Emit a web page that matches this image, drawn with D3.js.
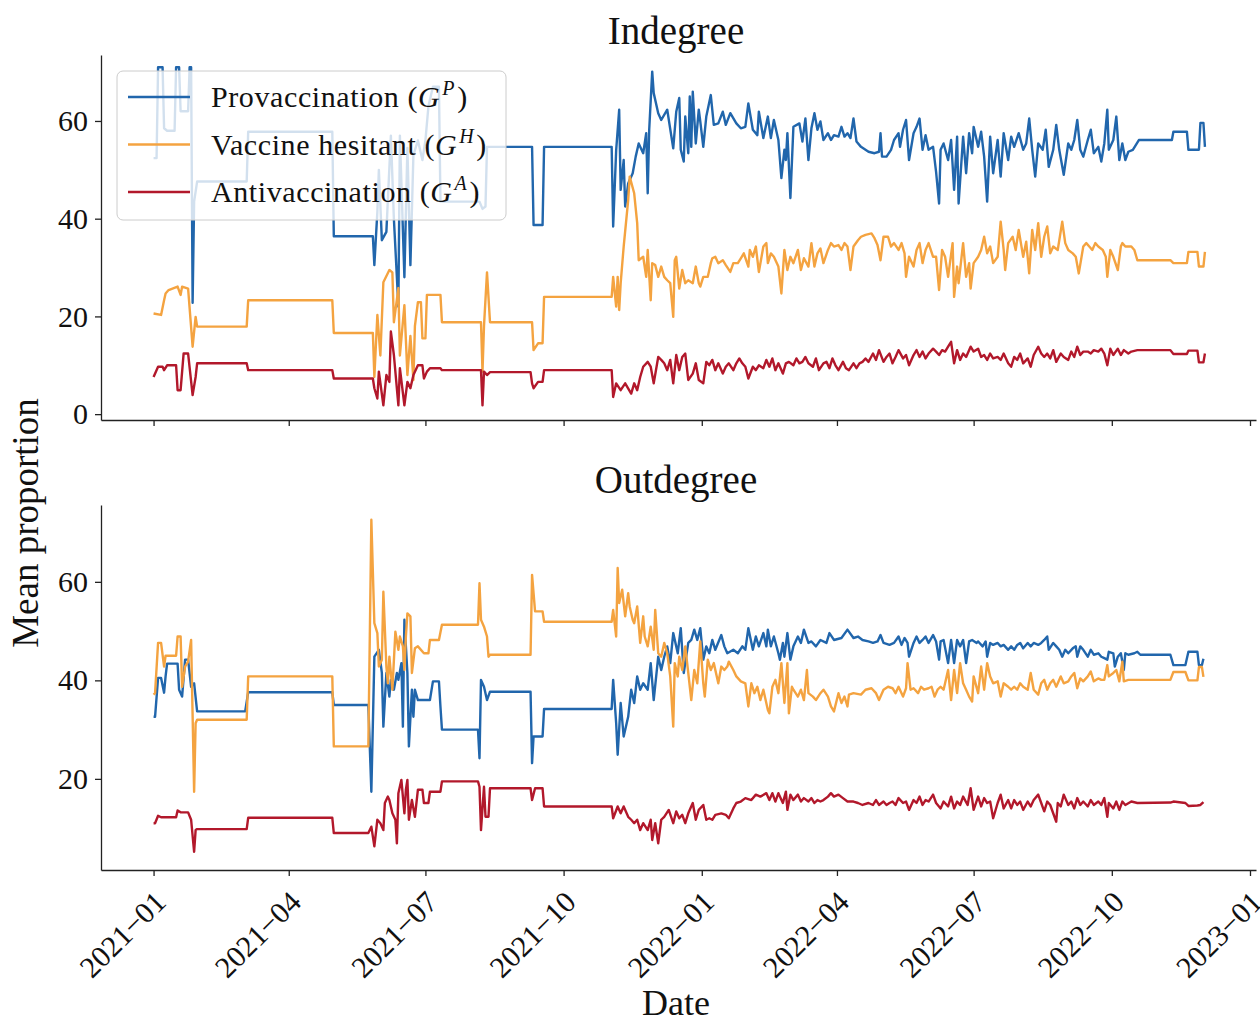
<!DOCTYPE html>
<html>
<head>
<meta charset="utf-8">
<script src="https://cdn.jsdelivr.net/npm/d3@7"></script>
<style>
  body { margin: 0; background: #fff; }
  svg text { font-family: "Liberation Serif", "DejaVu Serif", serif; fill: #111; }
</style>
</head>
<body>
<svg width="1260" height="1024"></svg>
<script>
// each point: [days since 2021-01-01, mean proportion]
var inPro = [[0,52.4],[2,52.4],[3,71],[6,71],[7,58.5],[9,58],[14,58],[15,71],[17,71],[18,62],[23,62],[24,71],[25,71],[26,22.8],[27,43.5],[29,47.6],[62,47.6],[63,57.8],[119,57.8],[120,36.4],[146,36.4],[147,30.5],[149,41.4],[150,50],[152,35.6],[155,37.3],[158,57],[160,40],[163,22],[164,57],[167,28],[169,54.5],[171,30.5],[173,53],[176,56],[179,52],[181,56],[183,63],[186,67],[190,67],[191,43.5],[217,43.5],[219,42],[221,42.5],[222,54.7],[252,54.7],[253,38.7],[259,38.7],[260,54.7],[305,54.7],
  [306,38.4],[308,54],[310,62.3],[311,45.9],[313,52],[314,42.5],[316,47.2],[319,49.3],[321,52.7],[323,55.4],[326,53.4],[328,57.5],[329,45.2],[330,58.2],[332,70.1],[333,65.7],[336,61.6],[338,60.2],[342,62.3],[346,54.4],[348,61.9],[350,64.7],[351,54.1],[353,51.7],[354,60.9],[356,53.4],[357,65],[358,54.7],[359,66],[361,55.4],[363,62.3],[364,59.9],[366,54.7],[368,60.9],[371,65.3],[373,59.2],[376,59.5],[379,61.9],[381,59.2],[384,61.6],[388,59.5],[391,58.5],[394,58.8],[396,63.6],[399,58.2],[402,57.1],[403,61.9],[406,56.5],[409,60.9],[411,56.5],[413,60.2],[416,56.1],[418,48.3],[420,54.1],[421,52],[422,57.5],[424,44.2],[426,58.8],[430,59.5],[432,55.8],[434,60.5],[436,52],[438,58.5],[440,61.6],[442,58.2],[444,59.9],[446,56.1],[449,57.5],[451,56.1],[453,57.1],[456,56.8],[458,58.8],[460,56.8],[462,57.5],[464,56.5],[466,60.5],[468,55.8],[471,54.7],[476,53.7],[480,53.4],[483,53.7],[484,57.5],[485,52.7],[488,52.7],[491,54.1],[493,56.1],[496,57.5],[497,54.7],[499,58.2],[501,60.2],[503,52],[506,57.5],[508,58.8],[510,60.5],[512,54.1],[514,57.1],[516,54.1],[519,54.7],[521,49.6],[523,43.1],
  [524,54.1],[526,55.4],[529,52],[531,56.1],[533,45.9],[535,56.8],[536,43.1],[539,56.8],[541,49.3],[543,57.5],[545,53.4],[546,58.8],[549,54.7],[551,57.8],[553,52.7],[555,43.5],[557,56.8],[559,49.3],[562,56.1],[564,48.6],[566,57.5],[569,52],[571,56.8],[573,54.7],[576,57.5],[579,54.1],[581,55.4],[583,60.5],[585,54.1],[587,48.6],[589,55.4],[592,54.1],[594,58.2],[596,50.6],[599,54.1],[601,59.2],[603,54.1],[606,49],[609,55.4],[611,54.1],[613,56.1],[615,60.2],[617,54.1],[619,52.7],[622,56.1],[624,58.2],[626,53.4],[629,54.7],[631,51.7],[633,55.4],[635,62.3],[636,54.1],[639,56.1],[641,60.9],[643,52],[645,55.4],[647,52],[649,53.7],[652,54.1],[656,56.1],[678,56.1],[679,57.8],[688,57.8],[689,54.1],[696,54.1],[697,59.6],[699,59.6],[700,54.7]];

var inHes = [[0,20.6],[5,20.3],[7,23.3],[8,24.7],[10,25.4],[16,26.1],[18,24.4],[19,26.1],[23,25.7],[26,13.8],[28,19.9],[29,17.9],[62,17.9],[63,23.3],[119,23.3],[120,16.6],[146,16.6],[147,7.6],[149,20.3],[151,12],[153,27],[157,29.5],[159,29],[160,18.8],[163,25.8],[164,12],[167,22.3],[169,8],[171,16],[173,7],[174,18],[176,22.9],[178,22.9],[179,15.5],[181,15.5],[182,24.4],[191,24.4],[192,18.8],[218,18.8],[219,8.7],[220,18],[222,29],[224,18.8],[252,18.8],[253,13.1],[256,14.5],[259,14.5],[260,24],[305,24],
  [306,28.1],[308,22],[309,28.1],[310,21.3],[311,26.8],[313,34.3],[316,43.8],[317,48.6],[320,45.2],[322,39.1],[323,31.5],[326,32.2],[328,28.1],[329,33.6],[331,23.3],[332,30.9],[334,30.5],[336,28.1],[338,30.2],[340,28.1],[342,27.4],[344,26.8],[346,19.9],[347,31.5],[348,32.2],[350,25.7],[352,29.5],[354,26.8],[356,27.4],[359,26.8],[361,30.2],[363,26.8],[364,26.1],[366,28.1],[369,28.1],[371,30.9],[372,31.9],[374,32.2],[376,30.9],[379,31.5],[381,30.5],[384,29.1],[386,30.9],[389,30.9],[391,31.9],[393,32.9],[396,30.2],[397,33.6],[399,32.2],[401,34.3],[403,29.1],[406,34.3],[408,35],[409,30.9],[411,32.9],[413,32.2],[416,30.2],[418,24.7],[420,33.6],[422,29.5],[424,32.2],[426,30.9],[429,33.6],[431,29.5],[433,31.9],[436,30.2],[438,35],[440,30.2],[442,32.9],[444,33.9],[446,30.9],[449,33.6],[451,35],[453,34.3],[456,34.6],[458,33.6],[460,35],[462,34.3],[464,29.5],[466,34.3],[469,35.6],[471,36.3],[474,36.7],[478,37],[480,36],[482,34.6],[484,31.5],[486,36.3],[489,36.3],[491,34.3],[493,35],[496,33.6],[498,35],[500,32.9],[501,28.1],[503,32.2],[506,30.2],[508,33.6],[510,35],[512,30.9],[514,33.6],[516,35],[519,32.2],[521,32.2],[523,25.4],
  [525,33.6],[527,32.2],[529,28.1],[532,35],[533,24],[535,30.2],[536,26.8],[539,35],[541,28.1],[543,30.9],[544,25.7],[546,30.9],[549,32.2],[551,33.6],[553,36.3],[555,32.9],[557,34.3],[559,30.9],[562,32.2],[564,39.4],[566,33.6],[567,29.5],[569,35],[572,36.3],[574,33.6],[576,37.7],[579,32.2],[581,35.3],[583,28.8],[585,37.7],[587,33.6],[589,39.1],[591,32.2],[593,36.3],[595,38.4],[597,32.9],[599,34.3],[602,33.6],[605,39.4],[607,35],[609,33.6],[612,32.9],[614,32.2],[616,28.8],[619,34.3],[621,35],[623,34.3],[625,33.6],[627,35],[629,34.3],[632,33.6],[634,32.2],[635,28.1],[637,33.6],[639,32.2],[642,29.5],[644,34.3],[645,35],[647,34.3],[651,34.3],[653,33.6],[655,31.5],[677,31.5],[679,30.9],[688,30.9],[689,33.2],[695,33.2],[696,30.2],[699,30.2],[700,33.2]];

var inAnti = [[0,7.6],[3,9.7],[6,9.7],[7,9],[9,10],[15,10],[16,4.9],[18,4.9],[20,12.4],[23,12.4],[26,3.9],[28,7.6],[29,10.4],[62,10.4],[63,9],[119,9],[120,7.3],[146,7.3],[147,5.3],[149,3.2],[150,8.7],[153,1.8],[155,8],[157,6.6],[158,16.9],[160,12.1],[163,1.8],[164,9.4],[167,1.8],[169,6.6],[171,5.3],[173,8],[176,10],[179,10],[180,7.3],[182,8.7],[184,9.4],[191,9.4],[192,9],[218,9],[219,1.8],[220,8.7],[222,8],[224,8.6],[251,8.6],[252,6.3],[253,5.3],[256,6.6],[259,6.6],[260,9],[305,9],
  [306,3.5],[308,6.3],[311,4.9],[314,6.3],[318,4.2],[320,6.3],[322,4.9],[324,7.6],[326,9.7],[329,10.7],[331,9.7],[333,6.3],[336,11.7],[338,11.1],[340,10.4],[342,9],[344,11.1],[346,6.3],[348,12.1],[350,9],[352,11.7],[354,12.4],[356,7],[359,8.3],[361,10.4],[363,7],[366,6.3],[368,10.7],[370,10],[372,11.1],[374,9],[376,10.4],[379,8.3],[381,9.7],[383,10.4],[386,9],[388,10.4],[390,11.4],[392,10.4],[394,9.7],[396,7.3],[399,9.7],[401,9],[403,10],[406,9.4],[408,11.1],[410,9.7],[412,11.4],[414,9],[416,10.4],[419,8.3],[421,10.4],[423,10.7],[426,10],[428,11.4],[430,10.4],[432,10.7],[434,11.7],[436,10.4],[439,9.7],[441,11.4],[443,9],[446,10.4],[448,10.7],[450,9.4],[452,11.4],[454,10],[456,9],[459,10.7],[461,9.4],[463,9],[466,10.4],[468,9.4],[470,10.4],[472,10.7],[474,11.4],[476,10.7],[479,12.4],[481,11.1],[483,13.1],[486,10.7],[488,11.7],[490,12.4],[492,10.4],[494,11.7],[496,13.1],[499,11.4],[501,12.1],[503,10],[506,12.1],[508,13.1],[510,11.7],[512,12.8],[514,11.4],[516,12.4],[519,13.4],[521,12.8],[523,12.1],[525,13.1],[527,12.8],[529,13.8],[531,14.8],[533,10.4],[535,13.1],[537,11.1],
  [539,12.4],[541,11.7],[544,13.8],[546,12.8],[549,13.4],[551,11.7],[553,12.1],[555,11.1],[557,12.4],[559,11.4],[562,11.7],[564,11.1],[566,12.4],[569,10.4],[571,9.7],[573,11.7],[575,11.1],[577,12.4],[579,10.4],[582,11.4],[584,9.7],[586,12.1],[589,13.8],[591,12.4],[593,11.7],[595,12.4],[597,11.4],[599,13.1],[601,10.7],[604,12.4],[606,11.7],[609,11.1],[611,12.8],[613,11.7],[615,13.8],[617,12.1],[619,12.8],[622,12.8],[624,12.4],[626,13.1],[629,12.8],[631,13.4],[633,12.4],[635,10],[637,13.4],[639,12.1],[642,13.4],[644,12.1],[646,13.1],[649,12.4],[651,12.8],[655,13.1],[677,13.1],[679,12.3],[688,12.3],[689,13],[695,13],[696,10.6],[699,10.6],[700,12.4]];

var outPro = [[0,32.6],[1,32.6],[3,40.5],[5,40.5],[7,37.5],[8,40.8],[9,43.4],[16,43.4],[17,38.1],[19,36.7],[21,44.2],[23,44.2],[25,38.7],[27,39.4],[29,33.7],[61,33.7],[63,37.6],[119,37.6],[120,35],[143,35],[145,17.4],[147,44.8],[150,46.2],[152,41.5],[153,30.6],[155,41.5],[157,36.7],[158,40.1],[160,38.1],[162,41.5],[163,40.1],[165,43.5],[166,30.6],[167,52.3],[169,41.5],[170,26.6],[172,38.1],[173,32.6],[174,38.1],[176,36],[184,36],[186,39.8],[190,39.8],[191,34.7],[192,30],[216,30],[217,24.2],[218,40.1],[220,38.7],[222,36],[224,37.7],[251,37.7],[252,23.2],[253,28.6],[259,28.6],[260,34.2],[305,34.2],
  [306,40.1],[308,31.3],[309,24.9],[311,35.4],[313,28.6],[316,32.6],[318,38.1],[320,35.4],[322,40.8],[324,38.1],[326,39.4],[329,38.1],[331,43.5],[333,36],[336,44.8],[338,42.1],[340,44.8],[342,46.9],[344,43.5],[346,49.6],[349,45.5],[351,50.6],[353,41.5],[356,47.6],[358,48.2],[360,50.3],[362,48.2],[364,50.6],[366,44.2],[368,46.9],[370,45.5],[372,48.2],[374,46.2],[378,49.2],[380,46.9],[382,45.5],[386,46.2],[389,45.5],[392,46.9],[394,46.2],[396,50.6],[399,46.2],[401,48.9],[403,46.9],[406,49.6],[408,46.9],[409,50.3],[411,46.9],[413,48.9],[416,45.5],[417,44.2],[419,47.6],[420,44.8],[422,49.6],[424,44.2],[426,46.9],[429,48.9],[431,47.6],[433,50.3],[436,47.6],[438,47.9],[441,46.9],[444,48.2],[448,47.6],[450,49.6],[453,48.2],[458,48.6],[462,50.3],[466,48.6],[469,48.9],[472,48.2],[476,47.9],[479,47.6],[482,47.9],[484,49.2],[486,47.6],[490,47.2],[493,47.6],[496,48.9],[498,47.2],[500,48.6],[502,47.6],[503,44.8],[506,47.6],[508,48.9],[510,47.6],[512,48.2],[514,48.9],[516,47.6],[519,49.2],[521,47.9],[523,44.2],
  [524,47.9],[526,48.2],[529,43.5],[531,48.2],[533,43.5],[535,48.2],[537,46.9],[539,48.2],[541,43.5],[543,47.9],[545,48.2],[548,47.6],[549,47.9],[552,46.9],[554,47.9],[555,44.8],[557,47.6],[559,47.2],[562,47.6],[564,46.9],[566,47.2],[569,46.2],[571,46.9],[573,46.2],[575,47.2],[577,47.6],[579,46.5],[582,47.6],[584,46.9],[586,47.6],[589,47.2],[591,47.6],[593,48.2],[595,48.9],[596,46.2],[599,47.6],[601,46.9],[603,46.2],[605,44.8],[607,46.2],[609,45.5],[612,46.5],[614,46.9],[615,44.8],[617,46.9],[619,46.2],[622,44.8],[624,46.2],[626,45.2],[629,45.5],[631,44.8],[633,44.5],[635,44.2],[636,45.8],[639,45.5],[640,42.8],[642,44.8],[644,45.5],[646,42.1],[647,45.5],[649,45.2],[653,45.5],[655,45.8],[657,45.2],[677,45.2],[679,43.1],[687,43.1],[689,45.8],[695,45.8],[696,43.1],[698,43.1],[699,44.4]];

var outHes = [[0,37.1],[1,37.4],[3,47.6],[5,47.6],[7,42.8],[8,45],[15,45],[16,48.9],[18,48.9],[19,38.7],[21,42.8],[23,43.8],[25,48.2],[27,17.4],[28,31.3],[29,32],[62,32],[63,40.8],[119,40.8],[120,26.6],[143,26.6],[145,72.6],[147,51.6],[149,49.6],[150,42.8],[152,44.2],[153,58],[155,42.8],[156,39.4],[157,44.8],[159,38.1],[161,49.9],[163,46.2],[164,48.9],[166,46.9],[167,42.1],[168,48.9],[169,53.6],[171,53],[172,41.5],[174,46.5],[176,46.9],[180,45.5],[183,45.5],[184,48.2],[190,48.2],[192,51.3],[216,51.3],[217,59.7],[218,52.3],[220,50.9],[222,48.9],[223,44.8],[224,45.2],[251,45.2],[252,61.4],[254,54],[259,54],[260,51.9],[305,51.9],
  [306,54.3],[308,48.9],[309,62.8],[310,55.7],[312,58.4],[314,53],[316,57.7],[317,55],[319,52.3],[320,51.6],[322,55],[324,47.6],[326,53],[327,48.9],[329,46.9],[331,50.9],[333,46.2],[334,54.3],[336,45.5],[338,44.8],[340,47.6],[342,45.5],[344,40.8],[346,30.6],[347,43.5],[349,40.8],[350,44.8],[352,42.1],[354,46.9],[356,41.5],[358,36],[360,42.1],[362,39.4],[364,47.9],[366,39.4],[367,36.7],[369,44.2],[371,42.1],[373,43.5],[376,39.4],[378,42.8],[380,42.1],[382,42.8],[383,43.8],[386,42.1],[388,40.8],[391,39.8],[394,39.4],[396,34.7],[398,39.4],[400,37.4],[402,38.7],[404,36],[406,38.1],[409,34],[410,33.3],[412,38.7],[414,40.1],[416,37.4],[418,43.5],[420,35.4],[422,43.5],[423,33.3],[425,38.7],[426,38.1],[429,36.7],[431,38.1],[433,36],[435,42.1],[436,37.4],[439,36.7],[441,36],[444,37.4],[446,38.1],[449,36.7],[451,34.7],[453,33.7],[456,37.4],[458,35.4],[460,36.7],[462,34.7],[463,37.1],[466,37.4],[471,37.1],[474,38.1],[478,38.4],[481,37.4],[483,36],[486,38.1],[489,38.7],[492,38.4],[494,37.4],[496,38.7],[499,36.7],[501,38.4],[502,43.5],[504,38.1],[506,38.4],[509,37.4],[511,38.7],[513,38.1],[516,38.4],[518,38.7],[520,36.7],[522,38.1],
  [524,38.7],[526,38.1],[529,42.1],[531,36],[533,42.1],[535,37.4],[537,43.5],[539,39.4],[541,38.1],[543,36.7],[545,35.7],[546,40.8],[549,37.4],[551,42.8],[553,38.1],[555,43.5],[557,40.8],[559,39.4],[562,39.8],[564,36.7],[566,39.4],[569,38.7],[571,38.1],[573,38.7],[575,38.1],[577,39.4],[579,38.7],[582,38.1],[584,41.5],[586,38.1],[589,37.1],[591,39.4],[593,40.1],[595,38.1],[597,39.4],[599,40.1],[601,38.7],[604,40.8],[606,39.4],[609,39.8],[611,40.8],[613,41.5],[615,38.4],[617,40.4],[619,39.8],[622,40.8],[624,41.8],[626,39.8],[629,40.4],[631,40.1],[633,40.1],[635,43.1],[636,40.8],[639,41.5],[641,42.1],[643,39.8],[645,43.8],[646,39.8],[649,40.1],[652,40.1],[655,40.1],[677,40.1],[679,41.7],[687,41.7],[689,40],[695,40],[696,42.7],[698,42.7],[699,40.7]];

var outAnti = [[0,11],[1,11],[3,12.5],[5,12.2],[15,12.2],[16,13.6],[18,13.2],[23,13.2],[25,11.7],[27,5.2],[28,9.6],[29,9.8],[62,9.8],[63,12.1],[119,12.1],[120,9],[143,9],[145,10.3],[147,6.3],[149,11.7],[151,11],[153,9.6],[154,15.1],[156,16.4],[157,15.7],[159,13],[161,11.7],[162,6.9],[163,17.1],[165,19.8],[167,13],[168,17.8],[169,19.8],[170,11.7],[172,15.7],[174,12.3],[176,17.8],[179,17.8],[180,15.1],[183,15.1],[184,17.4],[191,17.4],[192,19.5],[216,19.5],[217,18.4],[218,9.6],[220,18.4],[221,12.3],[223,12.3],[224,18.1],[251,18.1],[252,15.7],[254,18.1],[259,18.1],[260,14.4],[305,14.4],
  [306,12],[309,14.4],[311,13],[313,14.4],[316,12.3],[318,11.7],[320,11],[322,11.7],[324,9.6],[326,11],[329,9.6],[331,11.7],[332,7.6],[334,11],[336,6.9],[338,11.7],[340,12.3],[343,13.7],[346,11],[348,13.4],[350,12],[352,12.7],[354,11],[356,13],[359,15.1],[361,11.7],[363,13.7],[366,14.7],[368,11.7],[370,12],[372,11.7],[374,12.7],[378,13],[381,12.7],[383,12],[386,14],[388,15.1],[391,15.4],[394,16.1],[398,15.7],[401,16.8],[404,16.4],[408,17.1],[410,15.7],[412,17.1],[414,15.4],[416,17.1],[419,15.1],[421,17.4],[422,13.7],[424,16.8],[426,15.7],[429,16.8],[431,15.4],[433,16.1],[436,15.4],[438,16.1],[440,15.1],[442,15.7],[444,15.4],[446,15.7],[449,16.4],[451,17.1],[453,16.4],[456,16.8],[459,16.1],[462,15.4],[466,15.4],[469,15.1],[472,14.7],[476,15.1],[479,14.7],[481,15.7],[483,14.7],[486,15.4],[488,14.7],[490,15.1],[492,15.4],[494,14.7],[496,16.1],[499,15.1],[501,15.4],[503,13.7],[506,15.7],[508,15.1],[510,16.4],[512,14.7],[514,15.7],[516,15.4],[519,16.8],[521,15.1],
  [524,14],[526,15.4],[529,14.4],[531,16.4],[533,14],[535,15.4],[537,14.7],[539,16.4],[542,14.7],[544,18.1],[546,13.7],[549,16.4],[551,14.4],[553,16.1],[555,15.1],[557,15.4],[559,12],[562,15.1],[564,16.8],[566,14],[569,15.7],[571,14],[573,15.7],[575,14.7],[577,15.4],[579,13.7],[582,15.4],[584,14.4],[586,15.7],[589,16.8],[591,15.1],[593,13.4],[595,15.4],[597,14.7],[601,11.3],[602,15.1],[604,14.4],[606,16.8],[609,14.7],[611,15.4],[613,14],[615,16.1],[617,14.7],[619,15.4],[622,14.4],[624,15.7],[626,14.7],[629,15.4],[631,14.7],[633,16.1],[635,12.3],[636,15.1],[639,14],[641,15.4],[643,13.7],[645,15.4],[647,14.7],[651,15.4],[655,15.1],[677,15.2],[679,15.4],[687,15.1],[689,14.5],[695,14.6],[697,14.7],[699,15.3]];

var seriesNames = ["Provaccination", "Vaccine hesitant", "Antivaccination"];
var seriesSup = ["P", "H", "A"];
var colors = ["#2166ac", "#f4a340", "#b2182b"];
var xTicks = ["2021-01","2021-04","2021-07","2021-10","2022-01","2022-04","2022-07","2022-10","2023-01"];

var start = new Date(2021, 0, 1);
var toDate = d => d3.timeDay.offset(start, d);
var parseMonth = d3.timeParse("%Y-%m");
var fmt = d3.timeFormat("%Y\u2212%m");

var svg = d3.select("svg");

var x = d3.scaleTime()
    .domain([new Date(2020, 10, 27), new Date(2023, 0, 5)])
    .range([101, 1256]);

var panels = [
  {title: "Indegree", top: 55, bottom: 420, domain: [-1.2, 73.5], ticks: [0, 20, 40, 60],
   data: [inPro, inHes, inAnti], titleY: 44, labels: false},
  {title: "Outdegree", top: 505, bottom: 870, domain: [1.5, 75.6], ticks: [20, 40, 60],
   data: [outPro, outHes, outAnti], titleY: 493, labels: true}
];

panels.forEach(function(p) {
  var y = d3.scaleLinear().domain(p.domain).range([p.bottom, p.top]);

  var line = d3.line()
      .x(d => x(toDate(d[0])))
      .y(d => y(d[1]));

  p.data.forEach(function(s, i) {
    svg.append("path")
        .datum(s)
        .attr("d", line)
        .attr("fill", "none")
        .attr("stroke", colors[i])
        .attr("stroke-width", 2.4)
        .attr("stroke-linejoin", "round");
  });

  var yAxis = svg.append("g")
      .attr("transform", "translate(101,0)")
      .call(d3.axisLeft(y).tickValues(p.ticks).tickSize(6).tickPadding(7).tickSizeOuter(0));
  yAxis.selectAll("text").attr("font-size", 30).attr("font-family", null);

  var xAxis = svg.append("g")
      .attr("transform", "translate(0," + p.bottom + ")")
      .call(d3.axisBottom(x).tickValues(xTicks.map(parseMonth)).tickSize(6).tickSizeOuter(0).tickFormat(""));

  [yAxis, xAxis].forEach(function(a) {
    a.select(".domain").attr("stroke", "#222").attr("stroke-width", 1.3);
    a.selectAll(".tick line").attr("stroke", "#222").attr("stroke-width", 1.3);
  });

  if (p.labels) {
    svg.append("g").selectAll("text")
      .data(xTicks.map(parseMonth))
      .enter().append("text")
        .attr("transform", d => "translate(" + (x(d) + 14) + "," + (p.bottom + 34) + ") rotate(-45)")
        .attr("text-anchor", "end")
        .attr("font-size", 30)
        .text(fmt);
  }

  svg.append("text")
      .attr("x", 676)
      .attr("y", p.titleY)
      .attr("text-anchor", "middle")
      .attr("font-size", 39)
      .text(p.title);
});

svg.append("text")
    .attr("transform", "translate(38,523) rotate(-90)")
    .attr("text-anchor", "middle")
    .attr("font-size", 37)
    .text("Mean proportion");

svg.append("text")
    .attr("x", 676)
    .attr("y", 1015)
    .attr("text-anchor", "middle")
    .attr("font-size", 36)
    .text("Date");

// legend, drawn on top of the indegree panel
var legend = svg.append("g");
legend.append("rect")
    .attr("x", 117).attr("y", 71)
    .attr("width", 389).attr("height", 149)
    .attr("rx", 6)
    .attr("fill", "#fff").attr("fill-opacity", 0.8)
    .attr("stroke", "#ccc").attr("stroke-width", 1);

seriesNames.forEach(function(name, i) {
  var ly = 97 + i * 47.5;
  legend.append("line")
      .attr("x1", 128).attr("x2", 190)
      .attr("y1", ly).attr("y2", ly)
      .attr("stroke", colors[i]).attr("stroke-width", 2.4);
  var t = legend.append("text")
      .attr("x", 211).attr("y", ly + 10)
      .attr("font-size", 30)
      .attr("letter-spacing", 0.6);
  t.append("tspan").text(name + " (");
  t.append("tspan").attr("font-style", "italic").text("G");
  t.append("tspan").attr("font-style", "italic").attr("font-size", 20).attr("dx", 2).attr("dy", -12).text(seriesSup[i]);
  t.append("tspan").attr("dx", 2).attr("dy", 12).text(")");
});
</script>
</body>
</html>
